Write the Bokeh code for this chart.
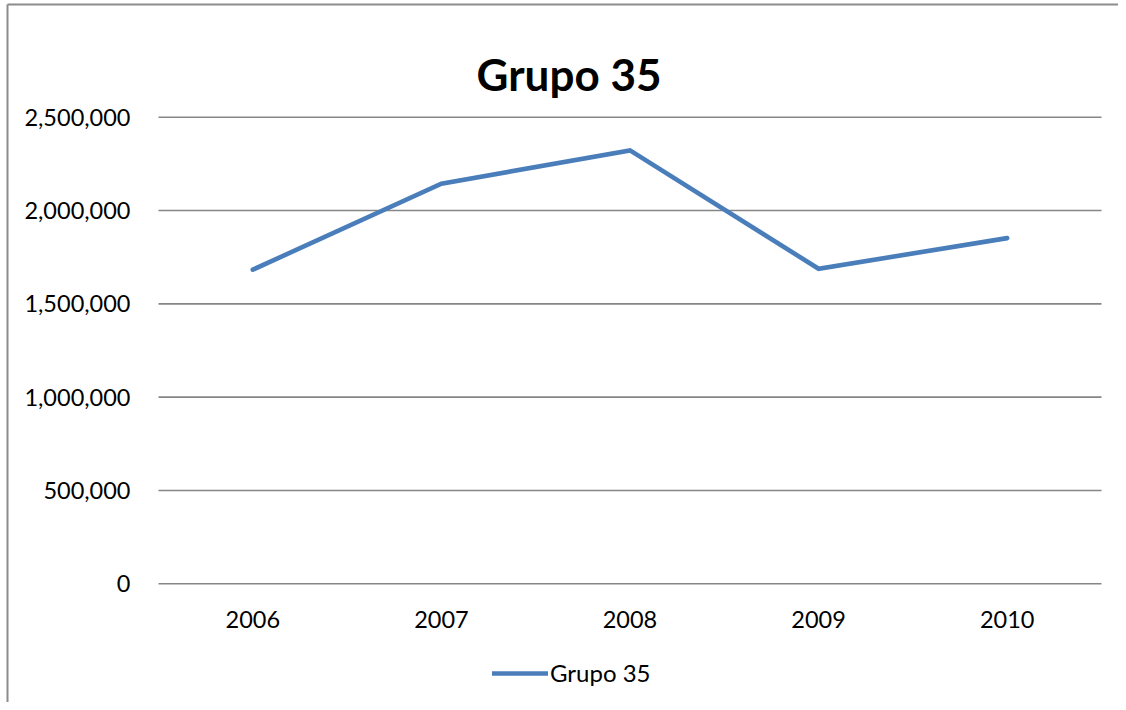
from bokeh.plotting import figure
from bokeh.models import (Range1d, NumeralTickFormatter, Legend, LegendItem, FixedTicker, Label)
from bokeh.embed import file_html
from bokeh.resources import INLINE

# ---- data ----
years = [2006, 2007, 2008, 2009, 2010]
values = [1683000, 2144000, 2322000, 1688000, 1852000]
series_name = "Grupo 35"
title_text = "Grupo 35"
y_ticks = [0, 500000, 1000000, 1500000, 2000000, 2500000]

# ---- layout (pixels) ----
W, H = 1118, 702
PLOT_L, PLOT_R = 158.0, 1101.0
PLOT_T, PLOT_B = 116.7, 583.3
BORDER_X, BORDER_Y = 7.0, 4.0
FONT = "Lato"

x_lo = years[0] - 0.5
x_hi = years[-1] + 0.5
px_x = (PLOT_R - PLOT_L) / (x_hi - x_lo)
x_start = x_lo - PLOT_L / px_x
x_end = x_start + W / px_x

y_lo, y_hi = y_ticks[0], y_ticks[-1]
px_y = (PLOT_B - PLOT_T) / (y_hi - y_lo)
y_end = y_hi + PLOT_T / px_y
y_start = y_end - H / px_y

p = figure(
    width=W, height=H,
    x_range=Range1d(x_start, x_end),
    y_range=Range1d(y_start, y_end),
    output_backend="svg", toolbar_location=None,
    min_border=0,
)
p.outline_line_color = None
p.background_fill_color = "white"
p.border_fill_color = "white"

# chart border (only top and left edges are inside the picture)
bx = x_start + BORDER_X / px_x
by = y_end - BORDER_Y / px_y
p.segment(x0=[bx, bx], y0=[by, by], x1=[x_end + 1, bx], y1=[by, y_start - 1e6],
          line_color="#8c8c8c", line_width=2)

# gridlines restricted to plot area
p.xgrid.grid_line_color = None
p.ygrid.grid_line_color = None
p.segment(x0=[x_lo] * len(y_ticks), x1=[x_hi] * len(y_ticks), y0=y_ticks, y1=y_ticks,
          line_color="#868686", line_width=1.6)

r = p.line(x=years, y=values, line_color="#4a7ebb", line_width=4.6,
           line_cap="round", line_join="miter")

# axes at fixed locations
p.yaxis.fixed_location = x_lo
p.yaxis.ticker = FixedTicker(ticks=y_ticks)
p.yaxis.formatter = NumeralTickFormatter(format="0,0")
p.xaxis.fixed_location = y_lo
p.xaxis.ticker = FixedTicker(ticks=years)
p.xaxis.formatter = NumeralTickFormatter(format="0")
for ax in (p.xaxis[0], p.yaxis[0]):
    ax.axis_line_color = None
    ax.major_tick_line_color = None
    ax.minor_tick_line_color = None
    ax.major_label_text_font = FONT
    ax.major_label_text_font_size = "23.5px"
    ax.major_label_text_color = "black"
p.yaxis.major_label_standoff = 22
p.xaxis.major_label_standoff = 21

# title
p.add_layout(Label(x=568.5, y=H - 73, x_units="screen", y_units="screen", text=title_text,
                   text_font=FONT, text_font_size="44px", text_font_style="bold",
                   text_color="black", text_align="center", text_baseline="alphabetic"))

legend = Legend(items=[LegendItem(label=series_name, renderers=[r])],
                location=(492, 15), orientation="horizontal",
                glyph_width=56, label_standoff=2,
                label_text_font=FONT, label_text_font_size="24px", label_text_color="black",
                border_line_color=None, background_fill_alpha=0, margin=0, padding=0)
p.add_layout(legend, "center")

open("out.html", "w").write(file_html(p, INLINE))
